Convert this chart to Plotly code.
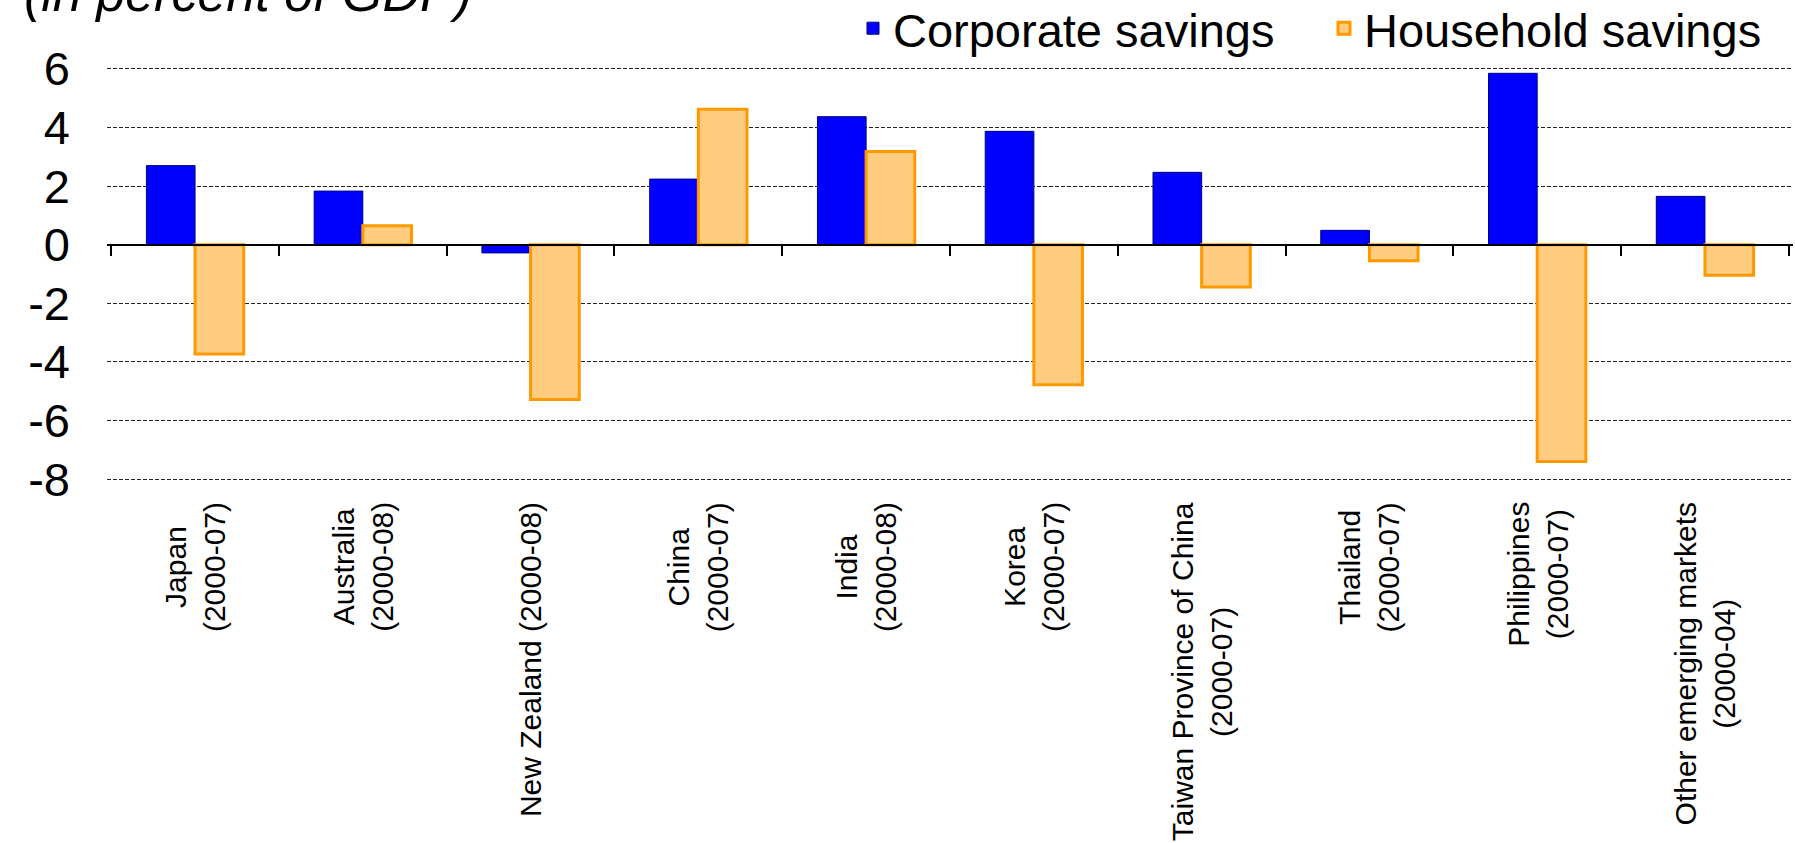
import plotly.graph_objects as go

categories = ["Japan", "Australia", "New Zealand", "China", "India", "Korea",
              "Taiwan Province of China", "Thailand", "Philippines", "Other emerging markets"]
category_labels = ["Japan<br>(2000-07)", "Australia<br>(2000-08)", "New Zealand (2000-08)",
                   "China<br>(2000-07)", "India<br>(2000-08)", "Korea<br>(2000-07)",
                   "Taiwan Province of China<br>(2000-07)", "Thailand<br>(2000-07)",
                   "Philippines<br>(2000-07)", "Other emerging markets<br>(2000-04)"]
corporate_savings = [2.70, 1.83, -0.28, 2.24, 4.37, 3.87, 2.47, 0.49, 5.85, 1.65]
household_savings = [-3.73, 0.65, -5.28, 4.62, 3.18, -4.78, -1.44, -0.55, -7.40, -1.04]
y_tickvals = [-8, -6, -4, -2, 0, 2, 4, 6]
y_ticktext = ["-8", "-6", "-4", "-2", "0", "2", "4", "6"]
title_text = "(in percent of GDP)"

FONT = "Liberation Sans, Arial, sans-serif"

fig = go.Figure()
fig.add_trace(go.Bar(
    x=categories, y=corporate_savings, name="Corporate savings",
    marker=dict(color="#0000FF", line=dict(color="#000080", width=1)),
))
fig.add_trace(go.Bar(
    x=categories, y=household_savings, name="Household savings",
    marker=dict(color="#FFCC80", line=dict(color="#FF9900", width=3)),
))
# invisible helper so the zero-line axis knows the categories (for boundary ticks)
fig.add_trace(go.Scatter(
    x=categories, y=[0] * len(categories), xaxis="x2", yaxis="y",
    mode="markers", marker=dict(opacity=0), showlegend=False, hoverinfo="skip",
))

ymin, ymax = -8.1, 6.1
fig.update_layout(
    width=1795, height=843,
    margin=dict(l=107, r=2, t=66, b=361, autoexpand=False),
    paper_bgcolor="white", plot_bgcolor="white",
    barmode="group", bargap=0.42, bargroupgap=0,
    font=dict(family=FONT, color="black"),
    xaxis=dict(
        type="category", categoryorder="array", categoryarray=categories,
        showticklabels=False, ticks="", showline=False, showgrid=False, zeroline=False,
        automargin=False,
    ),
    xaxis2=dict(
        type="category", categoryorder="array", categoryarray=categories,
        overlaying="x", matches="x", anchor="free", position=(0 - ymin) / (ymax - ymin),
        side="bottom", showline=True, linecolor="black", linewidth=2,
        ticks="outside", tickson="boundaries", ticklen=10, tickcolor="black", tickwidth=1.5,
        showticklabels=False, showgrid=False, zeroline=False, automargin=False,
    ),
    yaxis=dict(
        range=[ymin, ymax], tickvals=y_tickvals, ticktext=y_ticktext,
        showgrid=True, gridcolor="#222222", gridwidth=1, griddash="4px,2px",
        zeroline=False, showline=False, ticks="",
        tickfont=dict(size=47, family=FONT, color="black"),
        ticklabelstandoff=36, automargin=False,
    ),
    legend=dict(
        orientation="h", xref="container", yref="container",
        x=1.0, xanchor="right", y=0.966, yanchor="middle",
        font=dict(size=47, family=FONT, color="black"),
        bgcolor="rgba(0,0,0,0)", itemwidth=30, traceorder="normal",
        entrywidth=426,
    ),
    showlegend=True,
)

fig.add_annotation(
    text="<i>" + title_text + "</i>", xref="paper", yref="paper",
    x=-107 / 1686, xanchor="left", xshift=22, y=1.112, yanchor="bottom", yshift=-5,
    showarrow=False, font=dict(size=52, family=FONT, color="black"),
)

for cat, lab in zip(categories, category_labels):
    fig.add_annotation(
        text=lab, x=cat, xref="x", y=0, yref="paper", yanchor="top", xanchor="center",
        yshift=-18, textangle=-90, showarrow=False, align="center",
        font=dict(size=30, family=FONT, color="black"),
    )

fig.write_html("out.html", post_script="document.body.style.margin='0';",
               config={"displayModeBar": False})
